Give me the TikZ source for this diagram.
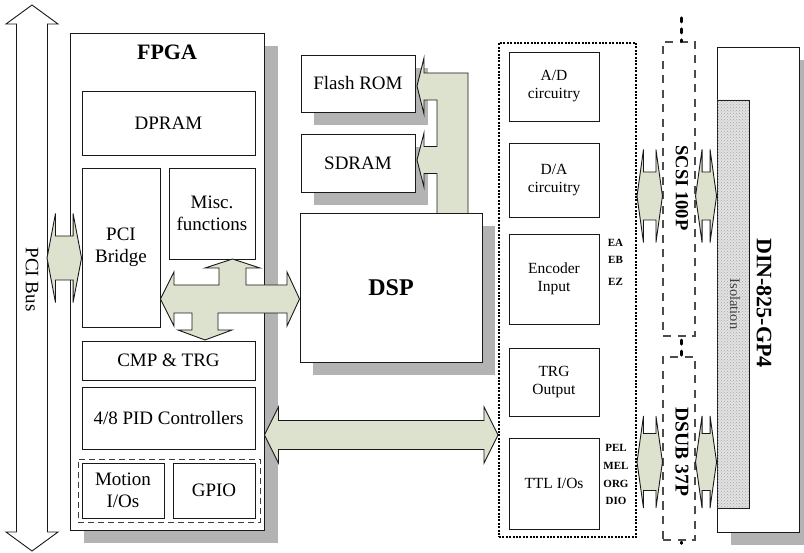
\documentclass[tikz,border=0pt]{standalone}
\usepackage{fontspec}
\setmainfont{Liberation Serif}
\usetikzlibrary{calc,patterns,shadows}

\definecolor{busfill}{RGB}{221,226,206}
\definecolor{shadowgrey}{RGB}{179,179,179}
\definecolor{ink}{RGB}{25,25,25}
\definecolor{isofill}{RGB}{226,226,226}

% horizontal block double arrow: [style]{left tip}{right tip}{shaft half}{head half}{head length}
\newcommand\hbus[6][bus]{%
  \draw[#1] let \p1=(#2), \p2=(#3) in
    (\x1,\y1) -- (\x1+#6pt,\y1+#5pt) -- (\x1+#6pt,\y1+#4pt)
    -- (\x2-#6pt,\y2+#4pt) -- (\x2-#6pt,\y2+#5pt) -- (\x2,\y2)
    -- (\x2-#6pt,\y2-#5pt) -- (\x2-#6pt,\y2-#4pt)
    -- (\x1+#6pt,\y1-#4pt) -- (\x1+#6pt,\y1-#5pt) -- cycle;}
% vertical block double arrow: [style]{top tip}{bottom tip}{shaft half}{head half}{head length}
\newcommand\vbus[6][bus]{%
  \draw[#1] let \p1=(#2), \p2=(#3) in
    (\x1,\y1) -- (\x1+#5pt,\y1-#6pt) -- (\x1+#4pt,\y1-#6pt)
    -- (\x2+#4pt,\y2+#6pt) -- (\x2+#5pt,\y2+#6pt) -- (\x2,\y2)
    -- (\x2-#5pt,\y2+#6pt) -- (\x2-#4pt,\y2+#6pt)
    -- (\x1-#4pt,\y1-#6pt) -- (\x1-#5pt,\y1-#6pt) -- cycle;}

\begin{document}
\begin{tikzpicture}[x=1pt,y=-1pt,
  blk/.style={draw=ink, line width=0.9pt, fill=white, inner sep=0pt, align=center,
              font=\fontsize{19}{22}\selectfont},
  iobx/.style={blk, font=\fontsize{15.5}{18}\selectfont, minimum width=90},
  shadowed/.style={drop shadow={shadow xshift=#1, shadow yshift=-13pt, opacity=1, fill=shadowgrey}},
  bus/.style={draw=ink, line width=0.9pt, fill=busfill, line join=miter},
  pinlbl/.style={font=\bfseries\fontsize{11}{13}\selectfont, inner sep=0pt},
  conn/.style={draw=black!70, line width=1.1pt, dash pattern=on 8pt off 6.5pt, inner sep=0pt},
  linkdots/.style={line width=3pt, line cap=round, dash pattern=on 4pt off 7pt},
  vlab/.style={rotate=-90, inner sep=0pt},
]
\clip (0,0) rectangle (804,553);
\fill[white] (0,0) rectangle (804,553);

% PCI bus
\coordinate (pcitop) at (32,5);
\coordinate (pcibot) at (32,551);
\vbus[bus, fill=white]{pcitop}{pcibot}{15.5}{26}{19}
\node[vlab, font=\fontsize{19}{22}\selectfont] (pcilbl) at (32,279.5) {PCI Bus};

% FPGA and its blocks
\node[blk, shadowed=14pt, minimum width=194, minimum height=497] (fpga) at (167,281.5) {};
\node[font=\bfseries\fontsize{22}{24}\selectfont, inner sep=0pt] (fpgalbl) at (167,52) {FPGA};
\node[blk, minimum width=173, minimum height=64] (dpram) at (168.5,123) {DPRAM};
\node[blk, minimum width=78, minimum height=159] (pcib) at (121,247.5) {PCI\\Bridge};
\node[blk, minimum width=86, minimum height=91] (misc) at (212,213.5) {Misc.\\functions};
\node[blk, minimum width=173, minimum height=39] (cmp) at (168.5,360.5) {CMP \& TRG};
\node[blk, minimum width=173, minimum height=62] (pid) at (168.5,418) {4/8 PID Controllers};
\node[draw=ink!85, line width=0.9pt, dash pattern=on 6pt off 4pt, minimum width=182,
      minimum height=63, inner sep=0pt] (mio) at (169,490.5) {};
\node[blk, minimum width=82, minimum height=55] (motion) at (123,490.5) {Motion\\I/Os};
\node[blk, minimum width=82, minimum height=55] (gpio) at (214,490.5) {GPIO};

% DSP and memories
\node[blk, shadowed=13pt, minimum width=114, minimum height=57] (flash) at (358,83.5) {Flash ROM};
\node[blk, shadowed=13pt, minimum width=114, minimum height=58] (sdram) at (358,163) {SDRAM};
\node[blk, shadowed=13pt, minimum width=182, minimum height=149,
      font=\bfseries\fontsize{24}{26}\selectfont] (dsp) at (391,287.5) {DSP};

% I/O section
\node[draw=black, line width=2pt, dash pattern=on 2pt off 1.4pt, minimum width=137,
      minimum height=494, inner sep=0pt] (iobox) at (567.5,290) {};
\node[iobx, minimum height=69] (ad) at (554,86.5) {A/D\\circuitry};
\node[iobx, minimum height=74] (da) at (554,180) {D/A\\circuitry};
\node[iobx, minimum height=90] (enc) at (554,279) {Encoder\\Input};
\node[iobx, minimum height=68] (trg) at (554,382) {TRG\\Output};
\node[iobx, minimum height=91] (ttl) at (554,483.5) {TTL I/Os};
\node[pinlbl] (ea) at (615.5,243) {EA};
\node[pinlbl] (eb) at (615.5,260) {EB};
\node[pinlbl] (ez) at (615.5,282) {EZ};
\node[pinlbl] (pel) at (616,448) {PEL};
\node[pinlbl] (mel) at (616,466) {MEL};
\node[pinlbl] (org) at (616,484) {ORG};
\node[pinlbl] (dio) at (616,501) {DIO};

% connectors
\node[conn, minimum width=32, minimum height=294] (scsi) at (679,189) {};
\node[conn, minimum width=32, minimum height=183] (dsub) at (679,448.5) {};
\node[vlab, font=\bfseries\fontsize{18.5}{20}\selectfont] (scsilbl) at (682,188) {SCSI 100P};
\node[vlab, font=\bfseries\fontsize{19.5}{21}\selectfont] (dsublbl) at (682,452) {DSUB 37P};
\draw[linkdots] ($(scsi.north)+(2.5,-23.5)$) -- ($(scsi.north)+(2.5,0)$);
\draw[linkdots] ($(scsi.south)+(2.5,3.5)$) -- ($(dsub.north)+(2.5,0)$);
\draw[line width=2.5pt, line cap=round] ($(dsub.south)+(2.5,1.5)$) -- ($(dsub.south)+(2.5,3)$);

% terminal board
\node[blk, shadowed=14pt, minimum width=82, minimum height=485] (din) at (758,289.5) {};
\node[draw=ink, line width=0.8pt, fill=isofill,
      postaction={pattern=crosshatch dots, pattern color=gray!70},
      minimum width=32, minimum height=408, inner sep=0pt] (iso) at (733,304) {};
\node[vlab, font=\fontsize{14.5}{16}\selectfont, text=black!75] (isolbl) at (735,304) {Isolation};
\node[vlab, font=\bfseries\fontsize{22}{24}\selectfont] (dinlbl) at (764,303) {DIN-825-GP4};

% buses between blocks
\coordinate (pciA) at (47,258);
\coordinate (pciB) at (pcib.west |- pciA);
\hbus{pciA}{pciB}{22}{44.5}{8.5}

\draw[bus] (pcib.east |- 0,299) -- (174,272) -- (174,285) -- (219,285) -- (219,268)
  -- (205,268) -- (232.5,259) -- (260,268) -- (246,268) -- (246,285) -- (287,285)
  -- (287,272) -- (dsp.west |- 0,299) -- (287,326) -- (287,313) -- (218,313) -- (218,330)
  -- (232,330) -- (205,340) -- (178,330) -- (192,330) -- (192,313) -- (174,313)
  -- (174,326) -- cycle;

\coordinate (pidA) at (fpga.east |- 0,435);
\coordinate (pidB) at (iobox.west |- pidA);
\hbus{pidA}{pidB}{14.5}{28}{14}

\draw[bus] (468,213) -- (468,73) -- (424,73) -- (424,58) -- (417,86) -- (424,114)
  -- (424,100) -- (437,100) -- (437,146.5) -- (424,146.5) -- (424,133) -- (417,160)
  -- (424,187) -- (424,173.5) -- (437,173.5) -- (437,213);

\coordinate (scA) at (637,196);
\coordinate (scB) at (scsi.west |- scA);
\coordinate (scC) at (scsi.east |- scA);
\coordinate (scD) at (din.west |- scA);
\hbus{scA}{scB}{24}{46.5}{6.5}
\hbus{scC}{scD}{24}{46.5}{6.5}

\coordinate (dsA) at (637,462);
\coordinate (dsB) at (dsub.west |- dsA);
\coordinate (dsC) at (dsub.east |- dsA);
\coordinate (dsD) at (din.west |- dsA);
\hbus{dsA}{dsB}{28.5}{46}{6.5}
\hbus{dsC}{dsD}{28.5}{46}{6.5}
\end{tikzpicture}
\end{document}
